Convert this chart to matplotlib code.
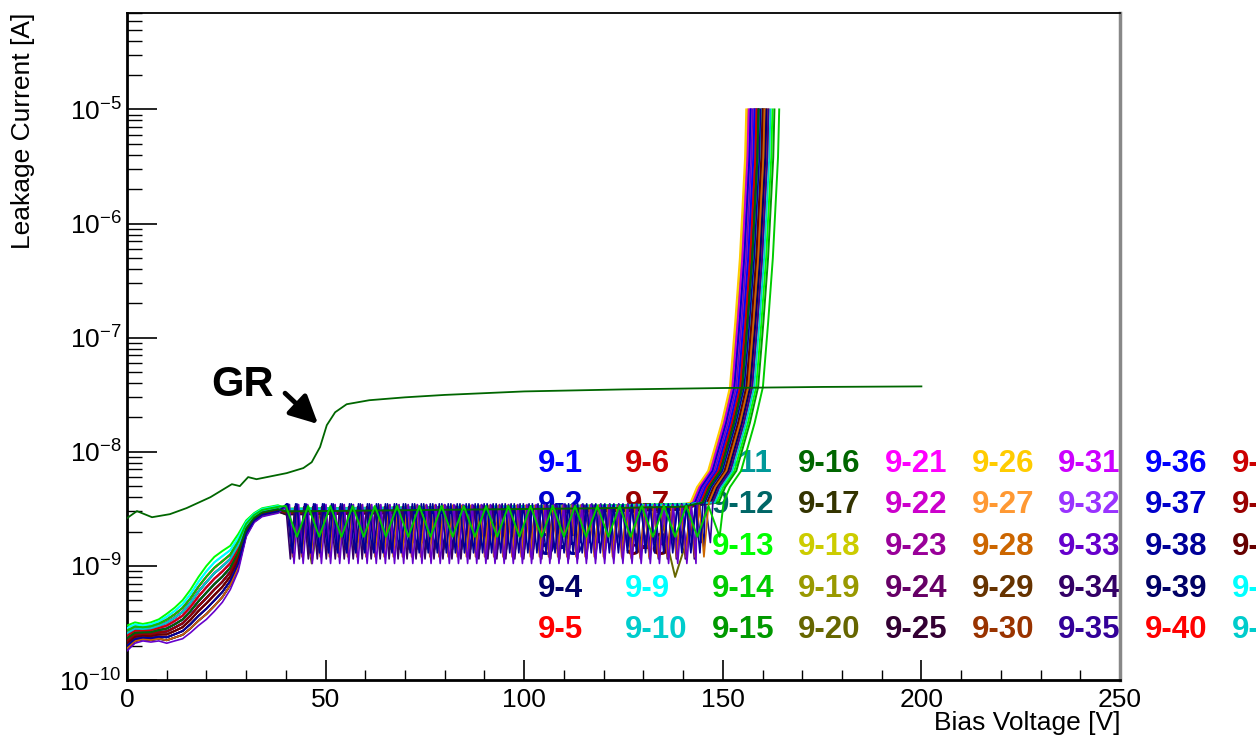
import numpy as np
import matplotlib
matplotlib.use('Agg')
import matplotlib.pyplot as plt
from matplotlib.ticker import LogLocator, MultipleLocator, NullFormatter

plt.rcParams['font.family'] = 'Liberation Sans'
plt.rcParams['mathtext.fontset'] = 'custom'
plt.rcParams['mathtext.rm'] = 'Liberation Sans'
plt.rcParams['mathtext.default'] = 'regular'

# device names and ROOT-like colours
names = ["9-%d" % n for n in range(1, 46)]
colors = ['#0000ff', '#0000cc', '#000099', '#000066', '#ff0000',
          '#cc0000', '#990000', '#660000', '#00ffff', '#00cccc',
          '#009999', '#006666', '#00ff00', '#00cc00', '#009900',
          '#006600', '#333300', '#cccc00', '#999900', '#666600',
          '#ff00ff', '#cc00cc', '#990099', '#660066', '#330033',
          '#ffcc00', '#ff9933', '#cc6600', '#663300', '#993300',
          '#cc00ff', '#9933ff', '#6600cc', '#330066', '#330099',
          '#0000ff', '#0000cc', '#000099', '#000066', '#ff0000',
          '#cc0000', '#990000', '#660000', '#00ffff', '#00cccc']

# low voltage part: the two edges of the bundle
v_rise = [0, 2, 4, 6, 8, 10, 12, 14, 16, 18, 20, 22, 24, 26, 28, 30, 32, 34, 36, 38]
i_early = [3.0e-10, 3.2e-10, 3.1e-10, 3.2e-10, 3.4e-10, 3.8e-10, 4.3e-10, 5.0e-10, 6.2e-10, 8.0e-10,
           1.0e-9, 1.2e-9, 1.35e-9, 1.5e-9, 1.9e-9, 2.5e-9, 2.9e-9, 3.2e-9, 3.3e-9, 3.4e-9]
i_late = [1.8e-10, 2.1e-10, 2.2e-10, 2.15e-10, 2.2e-10, 2.1e-10, 2.2e-10, 2.3e-10, 2.6e-10, 3.0e-10,
          3.4e-10, 4.0e-10, 4.8e-10, 6.2e-10, 9.0e-10, 1.8e-9, 2.4e-9, 2.7e-9, 2.8e-9, 2.9e-9]
# where each device sits between the two edges (0 = early, 1 = late)
w_late = [0.3, 0.5, 0.9, 0.4, 0.2, 0.6, 0.3, 0.7, 0.1, 0.5, 0.4, 0.6, 0.0, 0.2, 0.3,
          0.5, 0.8, 0.4, 0.6, 0.9, 0.2, 0.4, 0.7, 0.6, 0.8, 0.3, 0.5, 0.9, 0.6, 0.7,
          0.4, 0.5, 1.0, 0.9, 0.8, 0.3, 0.6, 0.8, 0.5, 0.2, 0.4, 0.6, 0.7, 0.1, 0.3]

# plateau
v_flat = [40, 60, 80, 100, 120, 140]
i_flat = [3.0e-9, 3.05e-9, 3.1e-9, 3.15e-9, 3.2e-9, 3.3e-9]
lev = [1.02, 0.98, 1.0, 0.95, 1.04, 0.99, 1.01, 0.97, 1.05, 1.0, 0.96, 1.03, 1.06, 1.0, 0.98,
       1.0, 0.94, 1.02, 0.99, 1.0, 1.03, 0.97, 1.01, 0.96, 0.95, 1.04, 1.0, 0.98, 0.97, 1.02,
       0.99, 1.01, 0.95, 0.96, 0.98, 1.03, 1.0, 0.97, 0.99, 1.02, 1.0, 0.98, 1.01, 1.04, 1.05]

# devices with a zig-zag plateau, in drawing order (device number, step, phase, low, high)
saw_dev = [3, 35, 34, 28, 33, 38, 14]
saw_step = [1.13, 1.17, 1.13, 1.15, 1.15, 1.14, 2.8]
saw_phase = [0.2, 0.4, 0.0, 0.6, 0.9, 0.5, 0.0]
saw_lo = [1.4e-9, 1.6e-9, 1.15e-9, 1.2e-9, 1.05e-9, 1.3e-9, 1.8e-9]
saw_hi = [3.5e-9, 3.4e-9, 3.3e-9, 3.4e-9, 3.45e-9, 3.5e-9, 3.35e-9]

# device 9-20 has two isolated dips
v_dip = [40, 44.5, 46.5, 48.5, 60, 80, 100, 120, 134, 138]
i_dip = [3.0e-9, 2.9e-9, 1.05e-9, 2.9e-9, 3.0e-9, 3.05e-9, 3.1e-9, 3.15e-9, 3.1e-9, 8.0e-10]

# breakdown, relative to the voltage where 1e-5 A is reached
tail_dv = [-14, -12.4, -9.6, -6.2, -4.1, -2.8, -1.6, -0.3, 0]
tail_i = [3.6e-9, 4.9e-9, 6.8e-9, 1.78e-8, 3.7e-8, 1.34e-7, 5e-7, 3.8e-6, 1e-5]
v_bd = [157.5, 158, 159.5, 157, 158.5, 160, 161, 160.5, 158, 159, 160, 158.5, 162.5, 164.2, 163,
        159, 158, 156.3, 160, 158, 157, 156.5, 158.5, 159.5, 160, 155.9, 157.5, 160.5, 159, 160.5,
        157, 158, 157.5, 159, 161.5, 158, 157, 159, 161, 159.5, 158.5, 161.5, 160, 159.5, 162]

# guard ring
v_gr = [0, 2.5, 6.3, 10.8, 15, 21, 26.4, 28.4, 30.5, 32.6, 40.2, 44.4, 46.5, 48.6, 50.3,
        52.4, 55.3, 61, 70, 80, 100, 125, 150, 175, 200]
i_gr = [2.62e-9, 3.02e-9, 2.67e-9, 2.84e-9, 3.21e-9, 4.0e-9, 5.2e-9, 5.0e-9, 6.0e-9, 5.75e-9,
        6.5e-9, 7.2e-9, 8.1e-9, 1.10e-8, 1.71e-8, 2.22e-8, 2.61e-8, 2.83e-8, 3.0e-8, 3.15e-8,
        3.38e-8, 3.52e-8, 3.62e-8, 3.7e-8, 3.74e-8]


def curve(n):
    w = w_late[n]
    x = list(v_rise)
    y = list(np.array(i_early) ** (1 - w) * np.array(i_late) ** w)
    vt = v_bd[n]
    end = vt + tail_dv[0]
    dev = n + 1
    if dev in saw_dev:
        k = saw_dev.index(dev)
        xs = np.arange(40 + saw_phase[k], end, saw_step[k])
        ys = [saw_hi[k] if j % 2 == 0 else saw_lo[k] for j in range(len(xs))]
    elif dev == 20:
        xs = [v for v in v_dip if v < end]
        ys = i_dip[:len(xs)]
    else:
        xs = [v for v in v_flat if v < end]
        ys = [i * lev[n] for i in i_flat[:len(xs)]]
    x += list(xs)
    y += list(ys)
    x += [vt + d for d in tail_dv]
    y += tail_i
    return x, y


fig = plt.figure(figsize=(12.56, 7.41), dpi=100)
ax = fig.add_axes([127 / 1256, 61 / 741, 993 / 1256, 667 / 741])

# flat ones first, zig-zag ones over them, 9-16 flat line and 9-14 on top
order = [n for n in range(45) if n + 1 not in saw_dev and n != 15] + [d - 1 for d in saw_dev[:-1]] + [15, 13]
for n in order:
    x, y = curve(n)
    lw = 1.2 if n + 1 in saw_dev and n != 13 else 1.4
    ax.plot(x, y, color=colors[n], lw=lw, zorder=3)

ax.plot(v_gr, i_gr, color='#006600', lw=1.3, zorder=4)

# legend as coloured labels, curves go over them
col_x = [538 + 86.7 * c for c in range(9)]
row_y = [471.8, 512.7, 555, 596.7, 638.5]
for n in range(45):
    c, r = divmod(n, 5)
    ax.text(col_x[c] / 1256, 1 - row_y[r] / 741, names[n], transform=fig.transFigure,
            color=colors[n], fontsize=22.5, fontweight='bold', ha='left', va='baseline',
            zorder=1, clip_on=False)

ax.text(29.2, 3.83e-8, "GR", fontsize=30, fontweight='bold', ha='center', va='center', zorder=5)
ax.annotate('', xy=(48.1, 1.75e-8), xytext=(39.8, 3.26e-8),
            arrowprops=dict(arrowstyle='-|>,head_length=0.6,head_width=0.3', lw=3.5, color='k',
                            mutation_scale=28, shrinkA=0, shrinkB=0), zorder=5)

ax.set_yscale('log')
ax.set_xlim(0, 250)
ax.set_ylim(1e-10, 7e-5)
ax.xaxis.set_major_locator(MultipleLocator(50))
ax.xaxis.set_minor_locator(MultipleLocator(10))
ax.yaxis.set_major_locator(LogLocator(base=10, numticks=20))
ax.yaxis.set_minor_locator(LogLocator(base=10, subs=np.arange(2, 10), numticks=20))
ax.yaxis.set_minor_formatter(NullFormatter())
ax.tick_params(axis='x', which='major', direction='in', length=14.4, width=1.2, labelsize=19, pad=6)
ax.tick_params(axis='x', which='minor', direction='in', length=7.2, width=1.0)
ax.tick_params(axis='y', which='major', direction='in', length=21.6, width=1.2, labelsize=19, pad=4)
ax.tick_params(axis='y', which='minor', direction='in', length=10.8, width=1.0)

ax.spines['left'].set_linewidth(2)
ax.spines['bottom'].set_linewidth(2)
ax.spines['top'].set_linewidth(1.3)
ax.spines['right'].set_linewidth(2.5)
ax.spines['right'].set_color('#888888')

ax.set_xlabel("Bias Voltage [V]", fontsize=19, loc='right')
ax.set_ylabel("Leakage Current [A]", fontsize=19, loc='top')
ax.xaxis.set_label_coords(1.0, -0.046)
ax.yaxis.set_label_coords(-0.093, 1.0)
ax.xaxis.label.set_va('top')

fig.savefig('out.png', dpi=100)
